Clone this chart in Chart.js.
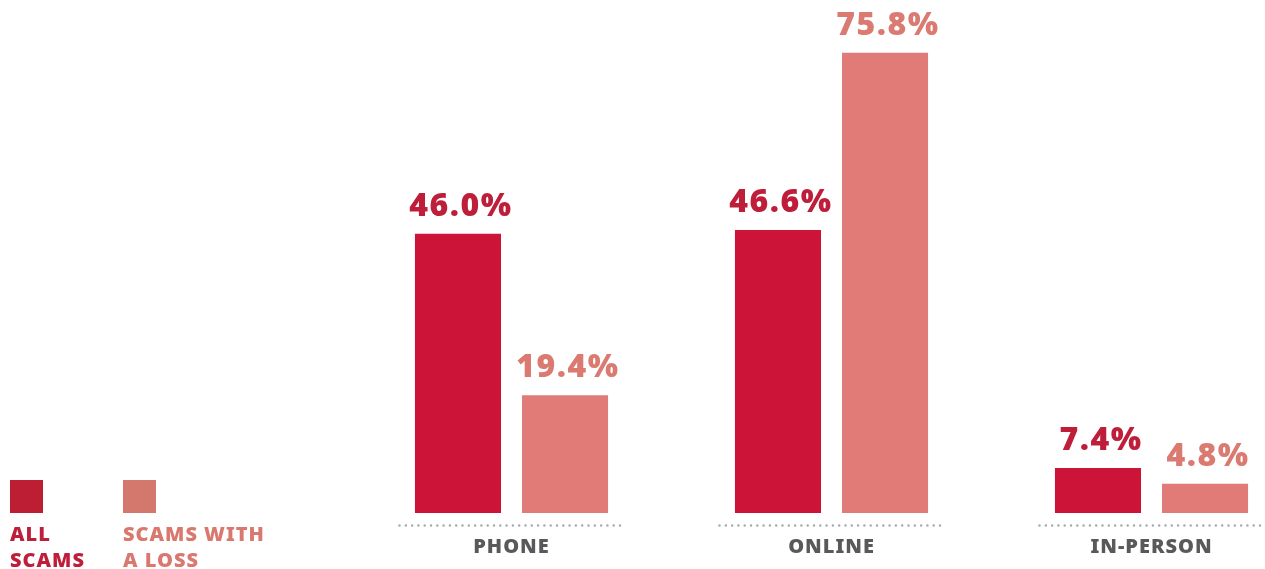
<!DOCTYPE html>
<html>
<head>
<meta charset="utf-8">
<script src="https://cdn.jsdelivr.net/npm/chart.js@4.4.1/dist/chart.umd.min.js"></script>
<style>
  html, body { margin: 0; padding: 0; background: #fff; overflow: hidden; }
  #wrap { position: relative; width: 1265px; height: 569px; }
  #chart { position: absolute; left: 0; top: 0; }
  .key { position: absolute; top: 480px; width: 33px; height: 33px; }
  .keyText { position: absolute; top: 521px; font-family: "Noto Sans", sans-serif; font-weight: 900;
             font-size: 20px; line-height: 26px; letter-spacing: 1px; }
</style>
</head>
<body>
<div id="wrap">
  <canvas id="chart" width="1265" height="569"></canvas>
  <div class="key" style="left:10px;background:#be1e34"></div>
  <div class="key" style="left:123px;background:#d4786d"></div>
  <div class="keyText" style="left:10px;color:#be1e3a">ALL<br>SCAMS</div>
  <div class="keyText" style="left:123px;color:#d9786e">SCAMS WITH<br>A LOSS</div>
</div>
<script>
// ====== DATA ======
const categories = ['PHONE', 'ONLINE', 'IN-PERSON'];
const allScams = [46.0, 46.6, 7.4];
const scamsWithLoss = [19.4, 75.8, 4.8];
const seriesNames = ['All scams', 'Scams with a loss'];

// ====== COLOURS ======
const barColors = ['#cc1439', '#e07b77'];
const labelColors = ['#be1e3a', '#da7a70'];
const FONT = '"Noto Sans", "Open Sans", sans-serif';

// letter spacing for axis text
const spacing = {
  id: 'spacing',
  beforeDraw(chart) { chart.ctx.letterSpacing = '1px'; }
};

// value labels above each bar
const valueLabels = {
  id: 'valueLabels',
  afterDatasetsDraw(chart) {
    const ctx = chart.ctx;
    ctx.save();
    ctx.font = '900 32px ' + FONT;
    ctx.letterSpacing = '1.5px';
    ctx.textAlign = 'center';
    ctx.textBaseline = 'alphabetic';
    chart.data.datasets.forEach((ds, i) => {
      chart.getDatasetMeta(i).data.forEach((bar, j) => {
        ctx.fillStyle = labelColors[i];
        ctx.fillText(ds.data[j].toFixed(1) + '%', bar.x + 3, bar.y - 18);
      });
    });
    ctx.restore();
  }
};

// dotted baseline under each category group
const dottedBase = {
  id: 'dottedBase',
  afterDatasetsDraw(chart) {
    const ctx = chart.ctx;
    const x = chart.scales.x;
    const y = chart.chartArea.bottom + 12.5;
    ctx.save();
    ctx.strokeStyle = '#a7a9ac';
    ctx.lineWidth = 2.5;
    ctx.lineCap = 'round';
    ctx.setLineDash([0, 6.3]);
    categories.forEach((c, i) => {
      const cx = x.getPixelForValue(i);
      ctx.beginPath();
      ctx.moveTo(cx - 112, y);
      ctx.lineTo(cx + 112, y);
      ctx.stroke();
    });
    ctx.restore();
  }
};

new Chart(document.getElementById('chart'), {
  type: 'bar',
  data: {
    labels: categories,
    datasets: [
      { label: seriesNames[0], data: allScams, backgroundColor: barColors[0], clip: false },
      { label: seriesNames[1], data: scamsWithLoss, backgroundColor: barColors[1], clip: false },
    ]
  },
  options: {
    responsive: false,
    animation: false,
    categoryPercentage: 0.669,
    barPercentage: 0.804,
    layout: { padding: { left: 511.5, right: 113.5, top: 0, bottom: 0 } },
    plugins: { legend: { display: false }, tooltip: { enabled: false } },
    scales: {
      x: {
        offset: false,
        grid: { display: false, drawTicks: false },
        border: { display: false },
        ticks: { color: '#58595b', font: { family: FONT, size: 20, weight: '900' }, padding: 22, maxRotation: 0, autoSkip: false },
        afterFit: s => { s.height = 56; }
      },
      y: { display: false, min: 0, max: 84.5 }
    }
  },
  plugins: [spacing, valueLabels, dottedBase]
});
</script>
</body>
</html>
